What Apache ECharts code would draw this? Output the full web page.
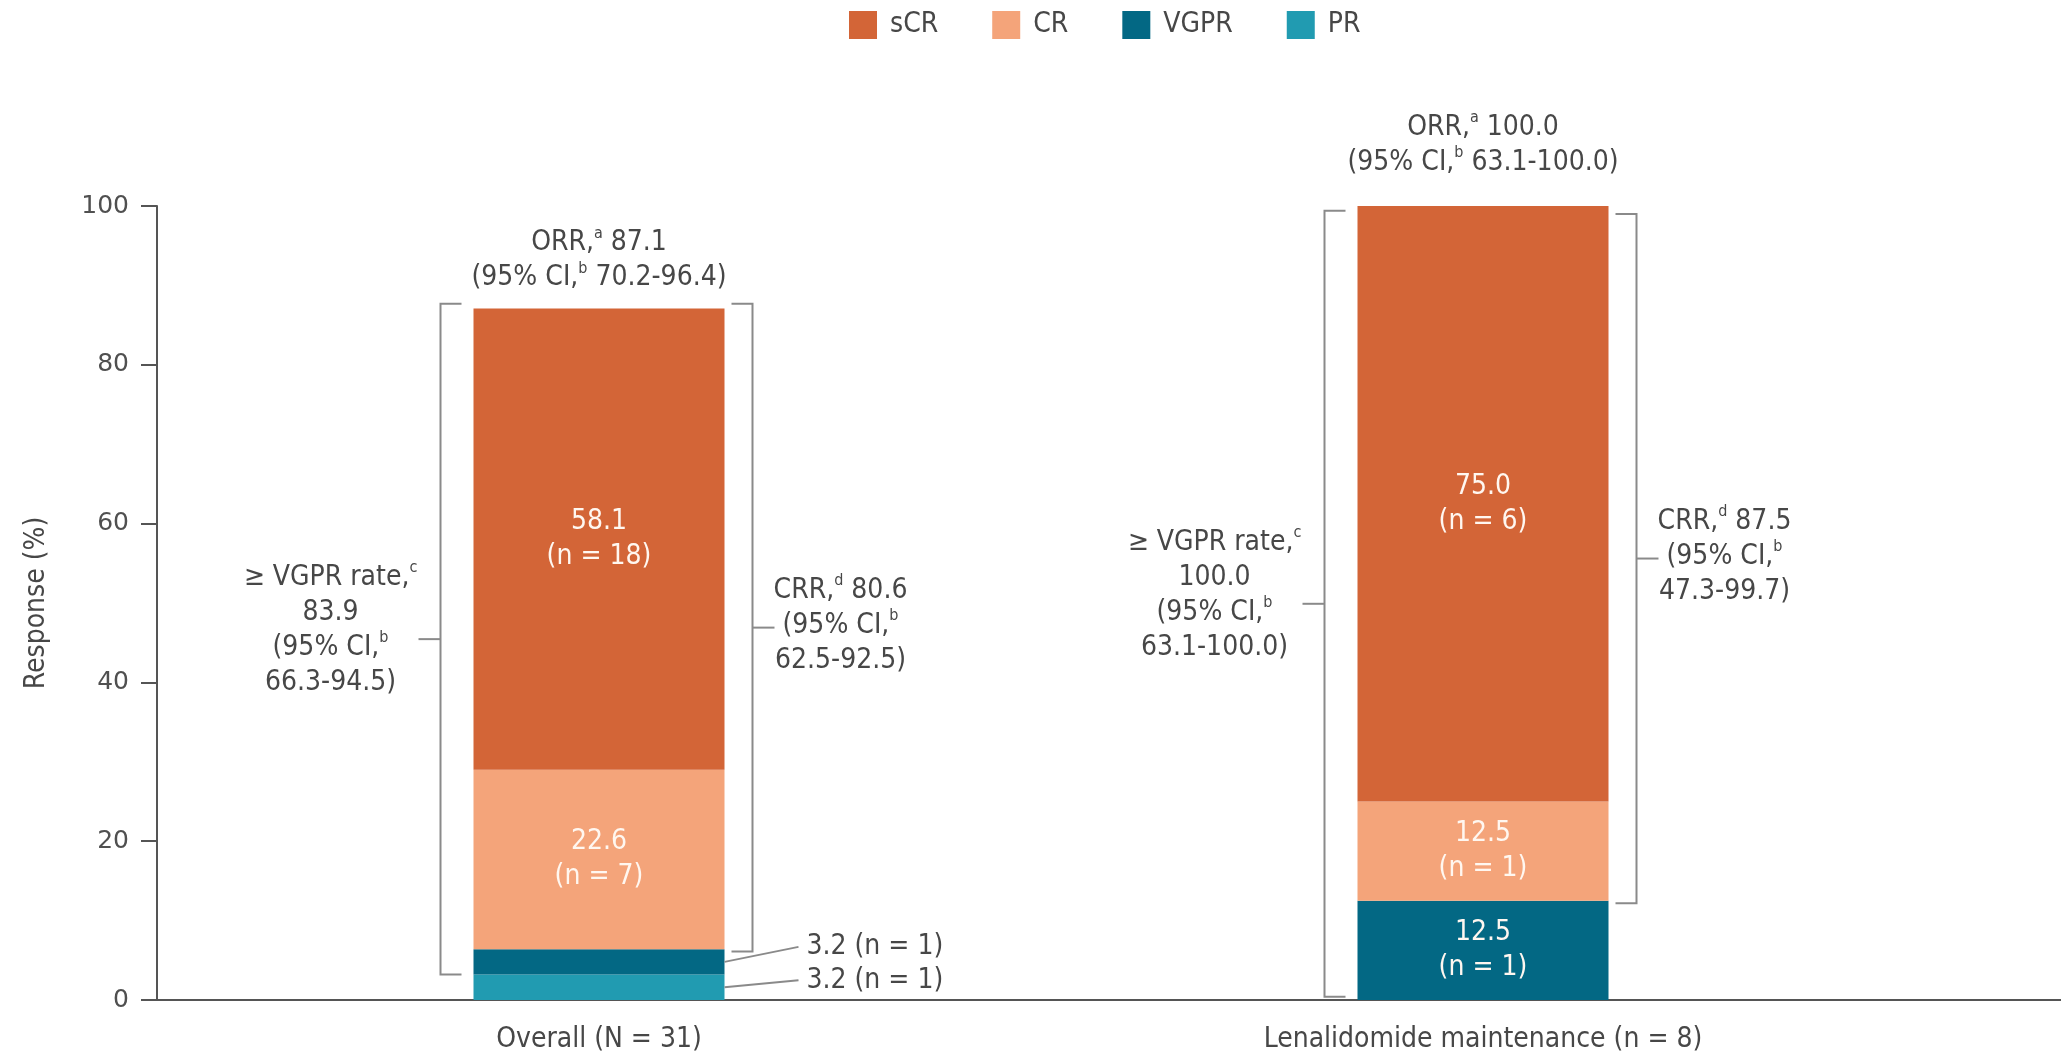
<!DOCTYPE html>
<html>
<head>
<meta charset="utf-8">
<script src="https://cdn.jsdelivr.net/npm/echarts@6/dist/echarts.min.js"></script>
<style>
  html, body { margin: 0; padding: 0; background: #ffffff; }
  #chart { width: 2061px; height: 1055px; }
</style>
</head>
<body>
<div id="chart"></div>
<script>
// ---- data -------------------------------------------------------------
const categories = ['Overall (N = 31)', 'Lenalidomide maintenance (n = 8)'];
const legendOrder = ['sCR', 'CR', 'VGPR', 'PR'];

// response rates (%) per group, and patient counts
const sCR = [58.1, 75.0];
const CR = [22.6, 12.5];
const VGPR = [3.2, 12.5];
const PR = [3.2, null];
const sCRn = [18, 6];
const CRn = [7, 1];
const VGPRn = [1, 1];
const PRn = [1, null];

const yTicks = [0, 20, 40, 60, 80, 100];

// summary rates with 95% confidence intervals
const orrValue = ['87.1', '100.0'];
const orrCI = ['70.2-96.4', '63.1-100.0'];
const vgprRate = ['83.9', '100.0'];
const vgprCI = ['66.3-94.5', '63.1-100.0'];
const crrValue = ['80.6', '87.5'];
const crrCI = ['62.5-92.5', '47.3-99.7'];

// vertical extent of the bracket for each summary (response %)
const vgprSpan = [[3.2, 87.7], [0.4, 99.4]];
const crrSpan = [[6.1, 87.7], [12.2, 99.0]];

// ---- styling ----------------------------------------------------------
const FONT = '"DejaVu Sans Condensed", "DejaVu Sans", sans-serif';
const TICK_FONT = '"DejaVu Sans", sans-serif';
const TEXT = '#474747';
const AXIS = '#555555';
const BRACKET = '#8a8a8a';
const COLORS = { sCR: '#D36537', CR: '#F4A47A', VGPR: '#036884', PR: '#219BB1' };
const BAR_W = 251;
const FS = 28;
const LH = 35;
const SMALL_SEGMENT = 10;   // segments thinner than this get an outside callout

const RICH = {
  s: { fontSize: 16, lineHeight: 20, verticalAlign: 'top', fontFamily: FONT, fill: TEXT }
};

function textEl(x, y, lines, align) {
  return {
    type: 'text',
    x: x, y: y,
    style: {
      text: lines.join('\n'),
      rich: RICH,
      fontFamily: FONT,
      fontSize: FS,
      lineHeight: LH,
      fill: TEXT,
      align: align || 'center',
      verticalAlign: 'middle'
    }
  };
}

// ---- stacked bars -----------------------------------------------------
const stackDefs = [
  { name: 'PR', values: PR, counts: PRn },
  { name: 'VGPR', values: VGPR, counts: VGPRn },
  { name: 'CR', values: CR, counts: CRn },
  { name: 'sCR', values: sCR, counts: sCRn }
];

const barSeries = stackDefs.map(def => ({
  type: 'bar',
  name: def.name,
  stack: 'response',
  barWidth: BAR_W,
  xAxisIndex: 0,
  yAxisIndex: 0,
  itemStyle: { color: COLORS[def.name] },
  emphasis: { disabled: true },
  label: {
    show: true,
    position: 'inside',
    color: '#fff7f0',
    fontFamily: FONT,
    fontSize: FS,
    lineHeight: LH,
    formatter: p => p.value.toFixed(1) + '\n(n = ' + p.data.n + ')'
  },
  data: def.values.map((v, i) => v == null ? null : ({
    value: v,
    n: def.counts[i],
    label: { show: v >= SMALL_SEGMENT }
  }))
}));

const totals = categories.map((c, i) =>
  stackDefs.reduce((s, d) => s + (d.values[i] || 0), 0));

// ---- brackets with ≥VGPR and CRR summaries ----------------------------
const bracketData = [];
categories.forEach((c, i) => {
  bracketData.push([i, vgprSpan[i][0], vgprSpan[i][1], -1]);
  bracketData.push([i, crrSpan[i][0], crrSpan[i][1], 1]);
});

function renderBracket(params, api) {
  const ci = api.value(0), lo = api.value(1), hi = api.value(2), side = api.value(3);
  const pLo = api.coord([ci, lo]);
  const yHi = api.coord([ci, hi])[1];
  const cx = pLo[0], yLo = pLo[1];
  const x = side < 0 ? cx - BAR_W / 2 - 33 : cx + BAR_W / 2 + 28;
  const inward = side < 0 ? 21 : -21;
  const yMid = (yLo + yHi) / 2;
  const lines = side < 0
    ? ['≥ VGPR rate,{s|c}', vgprRate[ci], '(95% CI,{s|b}', vgprCI[ci] + ')']
    : ['CRR,{s|d} ' + crrValue[ci], '(95% CI,{s|b}', crrCI[ci] + ')'];
  const textX = side < 0 ? x - 110 : x + 88;
  const textY = yMid - (lines.length === 4 ? 9 : 2);
  return {
    type: 'group',
    children: [
      {
        type: 'polyline',
        shape: { points: [[x + inward, yHi], [x, yHi], [x, yLo], [x + inward, yLo]] },
        style: { stroke: BRACKET, lineWidth: 2, fill: null }
      },
      {
        type: 'line',
        shape: { x1: x, y1: yMid, x2: x + side * 22, y2: yMid },
        style: { stroke: BRACKET, lineWidth: 2 }
      },
      textEl(textX, textY, lines, 'center')
    ]
  };
}

// ---- ORR above each bar -----------------------------------------------
const orrLift = [48, 61];
function renderOrr(params, api) {
  const ci = api.value(0);
  const p = api.coord([ci, api.value(1)]);
  return textEl(p[0], p[1] - orrLift[ci],
    ['ORR,{s|a} ' + orrValue[ci], '(95% CI,{s|b} ' + orrCI[ci] + ')'], 'center');
}

// ---- callouts for thin segments ---------------------------------------
const calloutData = [];
categories.forEach((c, i) => {
  let base = 0;
  let k = 0;
  stackDefs.forEach(d => {
    const v = d.values[i];
    if (v == null) return;
    if (v < SMALL_SEGMENT) {
      calloutData.push([i, base + v / 2, k, v, d.counts[i]]);
      k++;
    }
    base += v;
  });
});
const calloutRise = [7, 15];
function renderCallout(params, api) {
  const ci = api.value(0), mid = api.value(1), k = api.value(2);
  const v = api.value(3), n = api.value(4);
  const p = api.coord([ci, mid]);
  const barRight = p[0] + BAR_W / 2;
  const tx = barRight + 82;
  const ty = p[1] - calloutRise[k];
  return {
    type: 'group',
    children: [
      {
        type: 'line',
        shape: { x1: tx - 8, y1: ty, x2: barRight, y2: p[1] },
        style: { stroke: BRACKET, lineWidth: 2 }
      },
      textEl(tx, ty, [v.toFixed(1) + ' (n = ' + n + ')'], 'left')
    ]
  };
}

// ---- chart ------------------------------------------------------------
const chart = echarts.init(document.getElementById('chart'), null, { renderer: 'canvas' });

chart.setOption({
  backgroundColor: '#ffffff',
  animation: false,
  legend: {
    data: legendOrder,
    left: 849,
    top: 11,
    padding: 0,
    icon: 'rect',
    itemWidth: 28,
    itemHeight: 28,
    itemGap: 54,
    selectedMode: false,
    textStyle: { fontFamily: FONT, fontSize: 28, color: TEXT, padding: [0, 0, 0, 8] }
  },
  grid: [
    { left: 157, width: 1768, top: 206, bottom: 55 },
    { left: 157, right: 0, top: 206, bottom: 55 }
  ],
  xAxis: [
    {
      type: 'category',
      gridIndex: 0,
      data: categories,
      axisLine: { show: true, lineStyle: { color: AXIS, width: 2 } },
      axisTick: { show: false },
      axisLabel: { fontFamily: FONT, fontSize: FS, color: TEXT, margin: 26 }
    },
    {
      type: 'value',
      gridIndex: 1,
      min: 0, max: 1,
      axisLine: { show: true, lineStyle: { color: AXIS, width: 2 } },
      axisTick: { show: false },
      axisLabel: { show: false },
      splitLine: { show: false }
    }
  ],
  yAxis: [
    {
      type: 'value',
      gridIndex: 0,
      min: yTicks[0],
      max: yTicks[yTicks.length - 1],
      interval: yTicks[1] - yTicks[0],
      name: 'Response (%)',
      nameLocation: 'middle',
      nameRotate: 90,
      nameGap: 106,
      nameTextStyle: { fontFamily: FONT, fontSize: FS, color: TEXT },
      axisLine: { show: true, lineStyle: { color: AXIS, width: 2 } },
      axisTick: { show: true, length: 16, lineStyle: { color: AXIS, width: 2 } },
      axisLabel: { fontFamily: TICK_FONT, fontSize: 25, color: '#505050', margin: 28 },
      splitLine: { show: false }
    },
    {
      type: 'value',
      gridIndex: 1,
      min: 0, max: 1,
      show: false
    }
  ],
  series: barSeries.concat([
    {
      type: 'custom',
      name: 'brackets',
      xAxisIndex: 0, yAxisIndex: 0,
      silent: true,
      clip: false,
      z: 5,
      renderItem: renderBracket,
      data: bracketData
    },
    {
      type: 'custom',
      name: 'orr',
      xAxisIndex: 0, yAxisIndex: 0,
      silent: true,
      clip: false,
      z: 5,
      renderItem: renderOrr,
      data: categories.map((c, i) => [i, totals[i]])
    },
    {
      type: 'custom',
      name: 'callouts',
      xAxisIndex: 0, yAxisIndex: 0,
      silent: true,
      clip: false,
      z: 5,
      renderItem: renderCallout,
      data: calloutData
    }
  ])
});
</script>
</body>
</html>
